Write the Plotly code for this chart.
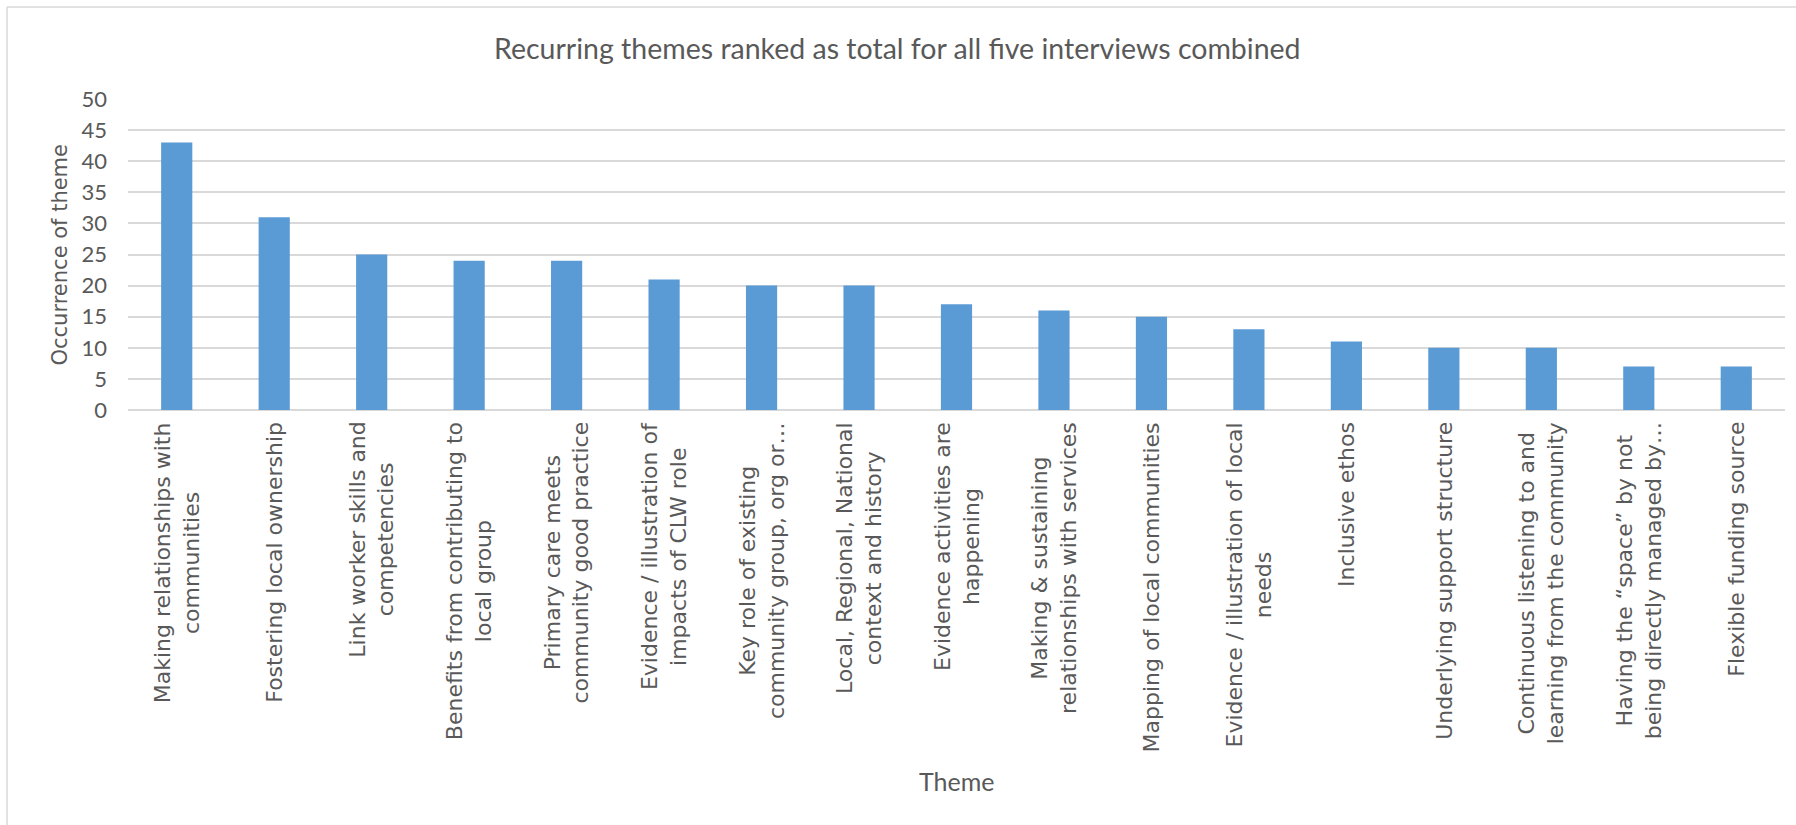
import plotly.graph_objects as go

themes = [
    "Making relationships with<br>communities",
    "Fostering local ownership",
    "Link worker skills and<br>competencies",
    "Benefits from contributing to<br>local group",
    "Primary care meets<br>community good practice",
    "Evidence / illustration of<br>impacts of CLW role",
    "Key role of existing<br>community group, org or…",
    "Local, Regional, National<br>context and history",
    "Evidence activities are<br>happening",
    "Making &amp; sustaining<br>relationships with services",
    "Mapping of local communities",
    "Evidence / illustration of local<br>needs",
    "Inclusive ethos",
    "Underlying support structure",
    "Continuous listening to and<br>learning from the community",
    "Having the “space” by not<br>being directly managed by…",
    "Flexible funding source",
]
occurrences = [43, 31, 25, 24, 24, 21, 20, 20, 17, 16, 15, 13, 11, 10, 10, 7, 7]
y_ticks = [0, 5, 10, 15, 20, 25, 30, 35, 40, 45, 50]

W, H = 1796, 825
L, R, T, B = 128, 11, 99, 415
pw, ph = W - L - R, H - T - B

def px_x(x):
    return (x - L) / pw

def px_y(y):
    return (H - B - y) / ph

GRAY = "#595959"
GRID = "#d9d9d9"
TITLE_FONT = "Lato, 'Open Sans', sans-serif"
LABEL_FONT = "DejaVu Sans, Verdana, sans-serif"

fig = go.Figure(go.Bar(
    x=list(range(len(themes))), y=occurrences,
    marker=dict(color="#5b9bd5", line=dict(width=0)),
    hoverinfo="skip",
))

annotations = []
for i, t in enumerate(themes):
    annotations.append(dict(
        x=i, xref="x", y=px_y(420), yref="paper",
        text=t, showarrow=False, textangle=-90,
        xanchor="center", yanchor="top", align="center",
        font=dict(family=LABEL_FONT, size=22, color=GRAY),
    ))
annotations.append(dict(
    x=0.5, xref="paper", y=px_y(781), yref="paper", text="Theme",
    showarrow=False, xanchor="center", yanchor="middle",
    font=dict(family=TITLE_FONT, size=25, color=GRAY),
))
annotations.append(dict(
    x=px_x(59), xref="paper", y=0.5, yref="paper", text="Occurrence of theme",
    showarrow=False, textangle=-90, xanchor="center", yanchor="middle",
    font=dict(family=LABEL_FONT, size=21, color=GRAY),
))
annotations.append(dict(
    x=px_x(897), xref="paper", y=px_y(48), yref="paper",
    text="Recurring themes ranked as total for all five interviews combined",
    showarrow=False, xanchor="center", yanchor="middle",
    font=dict(family=TITLE_FONT, size=28.5, color=GRAY),
))

fig.update_layout(
    width=W, height=H,
    margin=dict(l=L, r=R, t=T, b=B, autoexpand=False),
    paper_bgcolor="white", plot_bgcolor="white",
    bargap=0.68, showlegend=False,
    annotations=annotations,
    shapes=[
        dict(type="line", xref="paper", yref="paper",
             x0=px_x(7), x1=px_x(W + 5), y0=px_y(7), y1=px_y(7),
             line=dict(color=GRID, width=1.5)),
        dict(type="line", xref="paper", yref="paper",
             x0=px_x(7), x1=px_x(7), y0=px_y(7), y1=px_y(H + 5),
             line=dict(color=GRID, width=1.5)),
    ],
    xaxis=dict(range=[-0.5, len(themes) - 0.5], showticklabels=False,
               showgrid=False, zeroline=False, showline=False, ticks=""),
    yaxis=dict(range=[0, 50], tickvals=y_ticks, ticktext=[str(v) for v in y_ticks],
               showgrid=True, gridcolor=GRID, gridwidth=1.5,
               zeroline=True, zerolinecolor=GRID, zerolinewidth=2,
               showline=False, ticks="", ticklabelstandoff=20,
               tickfont=dict(family=TITLE_FONT, size=22, color=GRAY)),
)

fig.write_html("out.html")
